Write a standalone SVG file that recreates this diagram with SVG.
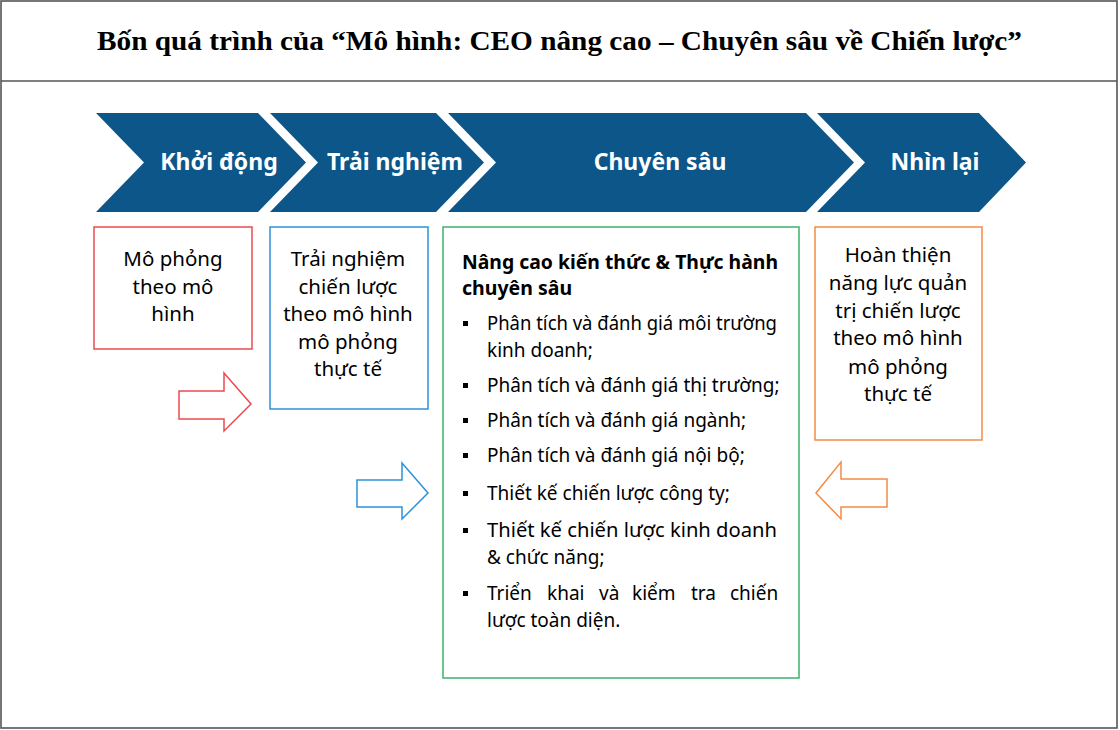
<svg xmlns="http://www.w3.org/2000/svg" width="1120" height="730" viewBox="0 0 1120 730">
<style>
.title{font-family:"Liberation Serif","DejaVu Serif",serif;font-weight:700;font-size:27px;fill:#000}
.chev{fill:#0d5689}
.cl{font-family:"Noto Sans","Open Sans",sans-serif;font-weight:700;font-size:23px;fill:#fff;text-anchor:middle}
.bt{font-family:"Noto Sans","Open Sans",sans-serif;font-size:20.5px;fill:#000;text-anchor:middle}
.gt{font-family:"Noto Sans","Open Sans",sans-serif;font-size:19px;fill:#000}
.gh{font-family:"Noto Sans","Open Sans",sans-serif;font-size:19.5px;font-weight:700;fill:#000}
.box{fill:#fff;stroke-width:1.5}
.arr{fill:#fff;stroke-width:1.5}
</style>
<rect x="0" y="0" width="1120" height="730" fill="#fff"/>
<g id="frame">
<rect x="1" y="1" width="1116" height="727" fill="none" stroke="#555" stroke-width="1.6"/>
<line x1="1" y1="81" x2="1117" y2="81" stroke="#555" stroke-width="1.6"/>
</g>
<g id="title">
<text class="title" x="97" y="50" textLength="925" lengthAdjust="spacingAndGlyphs">Bốn quá trình của “Mô hình: CEO nâng cao – Chuyên sâu về Chiến lược”</text>
</g>
<g id="chevron-khoi-dong">
<path class="chev" d="M96,113 L258,113 L306,162.5 L258,212 L96,212 L144,162.5 Z"/>
<text class="cl" x="219" y="170">Khởi động</text>
</g>
<g id="chevron-trai-nghiem">
<path class="chev" d="M270,113 L436,113 L484,162.5 L436,212 L270,212 L318,162.5 Z"/>
<text class="cl" x="395" y="170">Trải nghiệm</text>
</g>
<g id="chevron-chuyen-sau">
<path class="chev" d="M448,113 L806,113 L854,162.5 L806,212 L448,212 L496,162.5 Z"/>
<text class="cl" x="660" y="170">Chuyên sâu</text>
</g>
<g id="chevron-nhin-lai">
<path class="chev" d="M817,113 L979,113 L1026,162.5 L979,212 L817,212 L865,162.5 Z"/>
<text class="cl" x="935" y="170">Nhìn lại</text>
</g>
<g id="box-mo-phong">
<rect class="box" x="94" y="227" width="158" height="122" stroke="#ea4a4f"/>
<text class="bt" x="173" y="266">Mô phỏng</text>
<text class="bt" x="173" y="294">theo mô</text>
<text class="bt" x="173" y="321">hình</text>
</g>
<g id="box-trai-nghiem">
<rect class="box" x="270" y="227" width="158" height="182" stroke="#2b93d7"/>
<text class="bt" x="348" y="266">Trải nghiệm</text>
<text class="bt" x="348" y="294">chiến lược</text>
<text class="bt" x="348" y="321">theo mô hình</text>
<text class="bt" x="348" y="349">mô phỏng</text>
<text class="bt" x="348" y="376">thực tế</text>
</g>
<g id="box-chuyen-sau">
<rect class="box" x="443" y="227" width="356" height="451" stroke="#3db36b"/>
<text class="gh" x="462" y="269" textLength="316" lengthAdjust="spacingAndGlyphs">Nâng cao kiến thức &amp; Thực hành</text>
<text class="gh" x="462" y="295">chuyên sâu</text>
<g fill="#000">
<rect x="463" y="321" width="5" height="5"/>
<rect x="463" y="383" width="5" height="5"/>
<rect x="463" y="418" width="5" height="5"/>
<rect x="463" y="453" width="5" height="5"/>
<rect x="463" y="491" width="5" height="5"/>
<rect x="463" y="528" width="5" height="5"/>
<rect x="463" y="591" width="5" height="5"/>
</g>
<text class="gt" x="487" y="330" textLength="290" lengthAdjust="spacingAndGlyphs">Phân tích và đánh giá môi trường</text>
<text class="gt" x="487" y="357">kinh doanh;</text>
<text class="gt" x="487" y="392">Phân tích và đánh giá thị trường;</text>
<text class="gt" x="487" y="427">Phân tích và đánh giá ngành;</text>
<text class="gt" x="487" y="462">Phân tích và đánh giá nội bộ;</text>
<text class="gt" x="487" y="500">Thiết kế chiến lược công ty;</text>
<text class="gt" x="487" y="537" textLength="290" lengthAdjust="spacingAndGlyphs">Thiết kế chiến lược kinh doanh</text>
<text class="gt" x="487" y="564">&amp; chức năng;</text>
<text class="gt" y="600"><tspan x="487">Triển</tspan> <tspan x="547">khai</tspan> <tspan x="599">và</tspan> <tspan x="632">kiểm</tspan> <tspan x="691">tra</tspan> <tspan x="730">chiến</tspan></text>
<text class="gt" x="487" y="627">lược toàn diện.</text>
</g>
<g id="box-nhin-lai">
<rect class="box" x="815" y="227" width="167" height="213" stroke="#f48b45"/>
<text class="bt" x="898" y="262">Hoàn thiện</text>
<text class="bt" x="898" y="290">năng lực quản</text>
<text class="bt" x="898" y="318">trị chiến lược</text>
<text class="bt" x="898" y="345">theo mô hình</text>
<text class="bt" x="898" y="374">mô phỏng</text>
<text class="bt" x="898" y="401">thực tế</text>
</g>
<g id="connectors">
<path class="arr" stroke="#ea4a4f" d="M179,391 L224,391 L224,373 L251,404 L224,431 L224,419 L179,419 Z"/>
<path class="arr" stroke="#2b93d7" d="M357,480 L402,480 L402,463 L428,493 L402,519 L402,507 L357,507 Z"/>
<path class="arr" stroke="#f48b45" d="M887,479 L841,479 L841,462 L816,493 L841,519 L841,507 L887,507 Z"/>
</g>
</svg>
